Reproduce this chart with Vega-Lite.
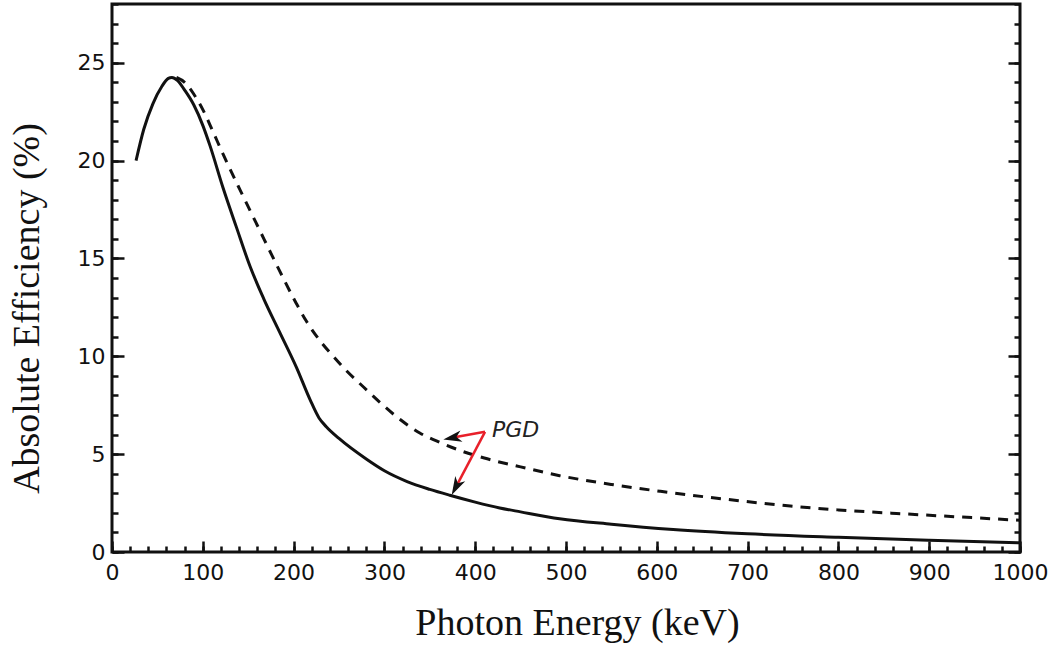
{
  "$schema": "https://vega.github.io/schema/vega-lite/v6.json",
  "width": 908,
  "height": 548,
  "autosize": {"type": "none"},
  "padding": {"left": 112, "top": 4, "right": 40, "bottom": 96},
  "background": "white",
  "config": {
    "view": {"stroke": "#111", "strokeWidth": 3},
    "axis": {
      "domain": false,
      "grid": false,
      "tickColor": "#111",
      "tickWidth": 2.5,
      "labelFont": "DejaVu Sans",
      "labelFontSize": 22,
      "labelColor": "#111",
      "labelFlush": false,
      "labelOverlap": false,
      "titleFont": "Liberation Serif",
      "titleFontSize": 38,
      "titleFontWeight": "normal",
      "titleColor": "#111"
    }
  },
  "datasets": {
    "solid": [
      {"E": 26.5, "eff": 20.0}, {"E": 35, "eff": 21.6}, {"E": 45, "eff": 22.9}, {"E": 55, "eff": 23.8},
      {"E": 62, "eff": 24.2}, {"E": 66, "eff": 24.25}, {"E": 72, "eff": 24.1}, {"E": 80, "eff": 23.6},
      {"E": 90, "eff": 22.85}, {"E": 100, "eff": 21.8}, {"E": 108, "eff": 20.75}, {"E": 122, "eff": 18.65},
      {"E": 137, "eff": 16.6}, {"E": 152, "eff": 14.6}, {"E": 167, "eff": 12.95}, {"E": 185, "eff": 11.2},
      {"E": 203, "eff": 9.45}, {"E": 218, "eff": 7.8}, {"E": 228, "eff": 6.85}, {"E": 236, "eff": 6.4},
      {"E": 250, "eff": 5.8}, {"E": 280, "eff": 4.75}, {"E": 300, "eff": 4.15}, {"E": 325, "eff": 3.6},
      {"E": 350, "eff": 3.2}, {"E": 372, "eff": 2.9}, {"E": 400, "eff": 2.55}, {"E": 427, "eff": 2.25},
      {"E": 450, "eff": 2.05}, {"E": 493, "eff": 1.7}, {"E": 550, "eff": 1.42}, {"E": 618, "eff": 1.15},
      {"E": 700, "eff": 0.93}, {"E": 800, "eff": 0.75}, {"E": 900, "eff": 0.6}, {"E": 1000, "eff": 0.47}
    ],
    "dashed": [
      {"E": 71, "eff": 24.25}, {"E": 80, "eff": 24.0}, {"E": 90, "eff": 23.4}, {"E": 100.6, "eff": 22.55},
      {"E": 111, "eff": 21.5}, {"E": 122.6, "eff": 20.3}, {"E": 141, "eff": 18.5}, {"E": 161, "eff": 16.6},
      {"E": 181, "eff": 14.7}, {"E": 203, "eff": 12.7}, {"E": 214, "eff": 11.8}, {"E": 229, "eff": 10.8},
      {"E": 244, "eff": 9.98}, {"E": 258, "eff": 9.27}, {"E": 277, "eff": 8.43}, {"E": 295, "eff": 7.65},
      {"E": 317, "eff": 6.78}, {"E": 339, "eff": 6.08}, {"E": 361, "eff": 5.6}, {"E": 385, "eff": 5.16},
      {"E": 410, "eff": 4.8}, {"E": 450, "eff": 4.35}, {"E": 493, "eff": 3.9}, {"E": 550, "eff": 3.45},
      {"E": 604, "eff": 3.1}, {"E": 675, "eff": 2.7}, {"E": 747, "eff": 2.35}, {"E": 800, "eff": 2.15},
      {"E": 864, "eff": 1.97}, {"E": 930, "eff": 1.8}, {"E": 1000, "eff": 1.62}
    ],
    "pointers": [
      {"E": 410.8, "eff": 6.14, "E2": 377.2, "eff2": 5.86},
      {"E": 410.8, "eff": 6.14, "E2": 380.0, "eff2": 3.43}
    ],
    "tip1": [{"E": 364.9, "eff": 5.75}],
    "tip2": [{"E": 374.1, "eff": 2.91}],
    "label": [{"E": 418.5, "eff": 5.87, "text": "PGD"}]
  },
  "resolve": {"axis": {"x": "independent", "y": "independent"}},
  "layer": [
    {
      "data": {"name": "solid"},
      "mark": {"type": "line", "color": "#111", "strokeWidth": 3, "interpolate": "monotone"},
      "encoding": {
        "x": {
          "field": "E", "type": "quantitative",
          "scale": {"domain": [0, 1000], "nice": false},
          "axis": {
            "orient": "bottom",
            "values": [0, 100, 200, 300, 400, 500, 600, 700, 800, 900, 1000],
            "format": "d",
            "tickSize": -11,
            "labelPadding": 21,
            "title": "Photon Energy (keV)",
            "titleX": 465,
            "titleY": 82,
            "titleBaseline": "alphabetic",
            "titleAlign": "center",
            "encode": {"title": {"update": {"letterSpacing": {"value": 1.5}}}}
          }
        },
        "y": {
          "field": "eff", "type": "quantitative",
          "scale": {"domain": [0, 28], "nice": false},
          "axis": {
            "orient": "left",
            "values": [0, 5, 10, 15, 20, 25],
            "tickSize": -12,
            "labelPadding": 19,
            "title": "Absolute Efficiency (%)",
            "titleX": -74,
            "titleY": 304,
            "titleAngle": -90,
            "titleBaseline": "alphabetic",
            "titleAlign": "center",
            "encode": {"title": {"update": {"letterSpacing": {"value": 1.5}}}}
          }
        }
      }
    },
    {
      "data": {"name": "dashed"},
      "mark": {"type": "line", "color": "#111", "strokeWidth": 3, "strokeDash": [10, 8], "interpolate": "monotone"},
      "encoding": {
        "x": {
          "field": "E", "type": "quantitative",
          "scale": {"domain": [0, 1000], "nice": false},
          "axis": {
            "orient": "bottom",
            "values": [0, 20, 40, 60, 80, 100, 120, 140, 160, 180, 200, 220, 240, 260, 280, 300, 320, 340, 360, 380, 400, 420, 440, 460, 480, 500, 520, 540, 560, 580, 600, 620, 640, 660, 680, 700, 720, 740, 760, 780, 800, 820, 840, 860, 880, 900, 920, 940, 960, 980, 1000],
            "tickSize": -6,
            "labels": false,
            "title": null
          }
        },
        "y": {
          "field": "eff", "type": "quantitative",
          "scale": {"domain": [0, 28], "nice": false},
          "axis": {
            "orient": "left",
            "values": [0, 1, 2, 3, 4, 5, 6, 7, 8, 9, 10, 11, 12, 13, 14, 15, 16, 17, 18, 19, 20, 21, 22, 23, 24, 25, 26, 27, 28],
            "tickSize": -6,
            "labels": false,
            "title": null
          }
        }
      }
    },
    {
      "data": {"name": "pointers"},
      "mark": {"type": "rule", "color": "#e8202a", "strokeWidth": 2.5},
      "encoding": {
        "x": {"field": "E", "type": "quantitative", "axis": null},
        "x2": {"field": "E2"},
        "y": {
          "field": "eff", "type": "quantitative",
          "axis": {
            "orient": "right",
            "values": [0, 5, 10, 15, 20, 25],
            "tickSize": -12,
            "labels": false,
            "title": null
          }
        },
        "y2": {"field": "eff2"}
      }
    },
    {
      "data": {"name": "tip1"},
      "mark": {"type": "point", "shape": "M0,0L0.55,1.8L0,1.3L-0.55,1.8Z", "filled": true, "color": "#111", "opacity": 1, "size": 420, "angle": 259.7},
      "encoding": {
        "x": {"field": "E", "type": "quantitative", "axis": null},
        "y": {
          "field": "eff", "type": "quantitative",
          "axis": {
            "orient": "right",
            "values": [0, 1, 2, 3, 4, 5, 6, 7, 8, 9, 10, 11, 12, 13, 14, 15, 16, 17, 18, 19, 20, 21, 22, 23, 24, 25, 26, 27, 28],
            "tickSize": -6,
            "labels": false,
            "title": null
          }
        }
      }
    },
    {
      "data": {"name": "tip2"},
      "mark": {"type": "point", "shape": "M0,0L0.55,1.8L0,1.3L-0.55,1.8Z", "filled": true, "color": "#111", "opacity": 1, "size": 420, "angle": 207.7},
      "encoding": {
        "x": {"field": "E", "type": "quantitative", "axis": null},
        "y": {"field": "eff", "type": "quantitative", "axis": null}
      }
    },
    {
      "data": {"name": "label"},
      "mark": {"type": "text", "align": "left", "baseline": "alphabetic", "font": "DejaVu Sans", "fontStyle": "italic", "fontSize": 22, "color": "#222"},
      "encoding": {
        "x": {"field": "E", "type": "quantitative", "axis": null},
        "y": {"field": "eff", "type": "quantitative", "axis": null},
        "text": {"field": "text"}
      }
    }
  ]
}
